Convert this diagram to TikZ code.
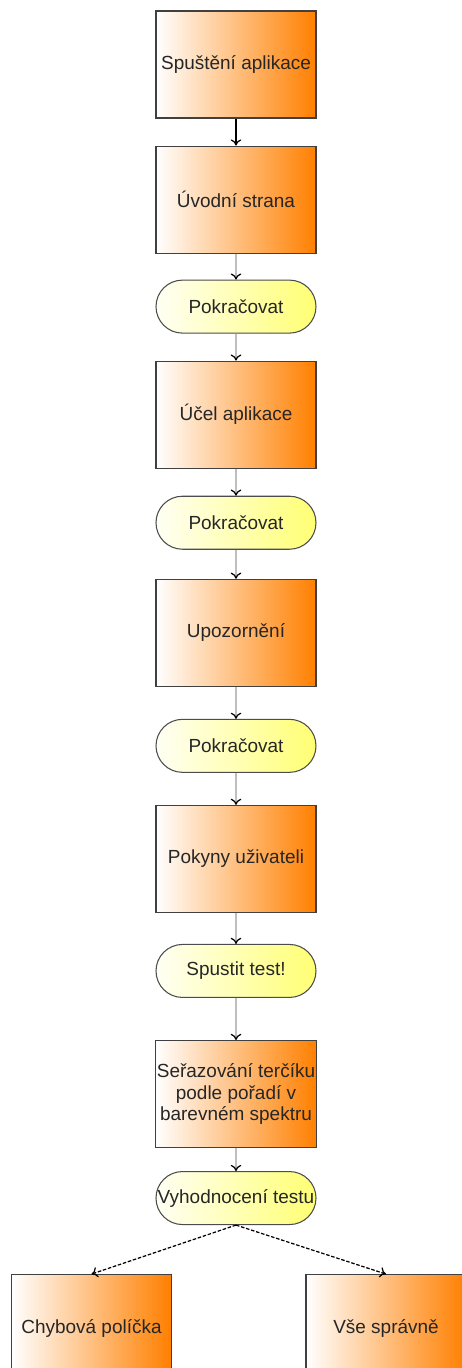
\documentclass[tikz,border=0pt]{standalone}
\usepackage{fontspec}
\setmainfont{Liberation Sans}
\usetikzlibrary{positioning,shapes,arrows,arrows.meta}

\tikzset{
    stepbox/.style={draw=black!75, line width=0.6pt, minimum width=3.2cm, minimum height=2.14cm,
        left color=white, middle color=orange!60, right color=orange, text=black!85,
        font=\fontsize{10.8}{12.5}\selectfont, align=center, inner sep=1pt},
    pill/.style={draw=black!70, line width=0.6pt, rounded corners=0.53cm, minimum width=3.2cm,
        minimum height=1.06cm, left color=yellow!4, right color=yellow!55, text=black!85,
        font=\fontsize{10.8}{12.5}\selectfont, inner sep=1pt},
    flow/.style={draw=black!25, line width=1.4pt, -{To[black, length=3.5pt, width=6pt, line width=0.7pt]}},
    branch/.style={dash pattern=on 2pt off 1pt, line width=0.7pt, -{To[black, length=3.5pt, width=6pt]}}
}

\begin{document}
\begin{tikzpicture}
    \useasboundingbox (0,0) rectangle (9.24,-27.36);

    \node[stepbox] (start) at (4.72,-1.29) {Spuštění aplikace};
    \node[stepbox, below=0.54cm of start] (intro) {Úvodní strana};
    \node[pill, below=0.52cm of intro] (next1) {Pokračovat};
    \node[stepbox, below=0.54cm of next1] (purpose) {Účel aplikace};
    \node[pill, below=0.54cm of purpose] (next2) {Pokračovat};
    \node[stepbox, below=0.58cm of next2] (warn) {Upozornění};
    \node[pill, below=0.64cm of warn] (next3) {Pokračovat};
    \node[stepbox, below=0.64cm of next3] (guide) {Pokyny uživateli};
    \node[pill, below=0.62cm of guide] (run) {Spustit test!};
    \node[stepbox, below=0.84cm of run] (sort) {Seřazování terčíku\\podle pořadí v\\barevném spektru};
    \node[pill, below=0.46cm of sort] (eval) {Vyhodnocení testu};

    % two outcomes
    \node[stepbox, below=0.98cm of eval, xshift=-2.89cm] (fail) {Chybová políčka};
    \node[stepbox, below=0.98cm of eval, xshift=3.0cm] (pass) {Vše správně};

    \draw[flow, draw=black, line width=0.7pt] (start) -- (intro);
    \draw[flow] (intro) -- (next1);
    \draw[flow] (next1) -- (purpose);
    \draw[flow] (purpose) -- (next2);
    \draw[flow] (next2) -- (warn);
    \draw[flow] (warn) -- (next3);
    \draw[flow] (next3) -- (guide);
    \draw[flow] (guide) -- (run);
    \draw[flow] (run) -- (sort);
    \draw[flow] (sort) -- (eval);
    \draw[branch] (eval.south) -- (fail.north);
    \draw[branch] (eval.south) -- (pass.north);
\end{tikzpicture}
\end{document}
